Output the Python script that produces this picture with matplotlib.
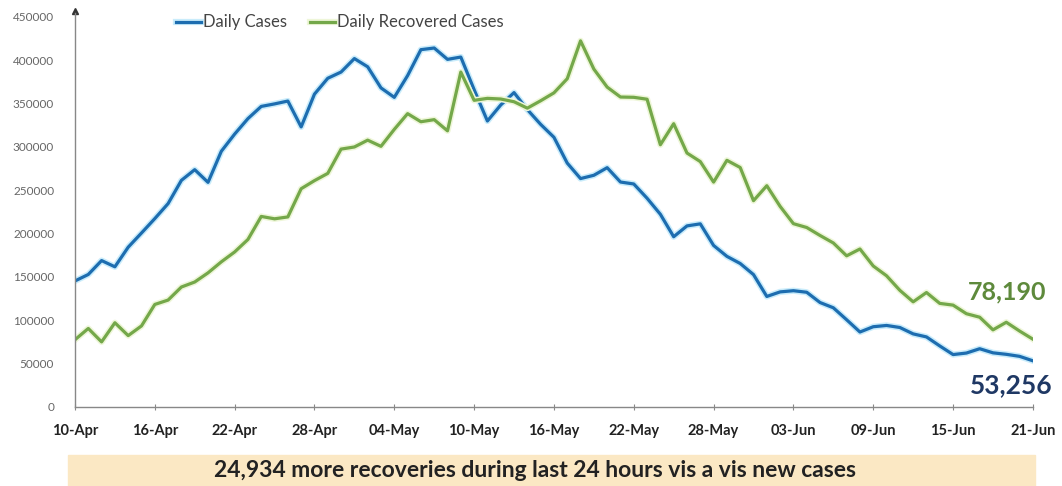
import matplotlib
matplotlib.use("Agg")
import matplotlib.pyplot as plt
import matplotlib.dates as mdates
import matplotlib.patheffects as pe
import pandas as pd

# daily values, 10-Apr .. 21-Jun
dates = pd.date_range("2021-04-10", "2021-06-21", freq="D")

daily_cases = [
    145384, 152879, 168912, 161736, 184372, 200739, 217353, 234692, 261500, 273810,
    259170, 295041, 314835, 332730, 346786, 349691, 352991, 323144, 360960, 379257,
    386452, 401993, 392488, 368147, 357229, 382315, 412262, 414188, 401078, 403738,
    366161, 329942, 348421, 362727, 343144, 326098, 311170, 281386, 263533, 267334,
    276110, 259551, 257299, 240842, 222315, 196427, 208921, 211298, 186364, 173790,
    165553, 152734, 127510, 132788, 134154, 132364, 120529, 114460, 100636, 86498,
    92596, 94052, 91702, 84332, 80834, 70421, 60471, 62224, 67208, 62480,
    60753, 58419, 53256,
]

daily_recovered = [
    77567, 90584, 75086, 97168, 82339, 93528, 118302, 123354, 138423, 144178,
    154761, 167457, 178841, 193279, 219838, 217113, 219272, 251827, 261162, 269507,
    297540, 299988, 307865, 300732, 320289, 338439, 329113, 331507, 318609, 386444,
    353818, 356082, 355338, 352181, 344776, 353299, 362437, 378741, 422436, 389851,
    369077, 357630, 357295, 355102, 302544, 326850, 293003, 283135, 259459, 284601,
    276309, 238022, 255287, 231456, 211499, 207071, 197894, 189232, 174399, 182282,
    162664, 151367, 134580, 121311, 132062, 119501, 117525, 107628, 103570, 88977,
    97743, 87619, 78190,
]

y_ticks = [0, 50000, 100000, 150000, 200000, 250000, 300000, 350000, 400000, 450000]
banner_text = "24,934 more recoveries during last 24 hours vis a vis new cases"

BLUE = "#1d6db0"
GREEN = "#74a84a"

plt.rcParams["font.family"] = ["Lato", "DejaVu Sans"]

fig = plt.figure(figsize=(10.62, 4.86), dpi=100)
ax = fig.add_axes([0.0706, 0.1626, 0.902, 0.8025])

ax.plot(dates, daily_cases, color=BLUE, lw=2.3, label="Daily Cases",
        path_effects=[pe.Stroke(linewidth=4.5, foreground="#c9ecfb"), pe.Normal()])
ax.plot(dates, daily_recovered, color=GREEN, lw=2.3, label="Daily Recovered Cases",
        path_effects=[pe.Stroke(linewidth=4.5, foreground="#eef6d8"), pe.Normal()])

ax.set_xlim(dates[0], dates[-1])
ax.set_ylim(0, 450000)
ax.set_yticks(y_ticks)
ax.set_yticklabels([str(v) for v in y_ticks])
ax.tick_params(axis="y", length=0, pad=15, labelsize=8.5, labelcolor="#666666")

ax.set_xticks(dates[::6])
ax.xaxis.set_major_formatter(mdates.DateFormatter("%d-%b"))
ax.tick_params(axis="x", direction="inout", length=5, color="#888888",
               labelsize=10.5, labelcolor="#222222", pad=10)
for lab in ax.get_xticklabels():
    lab.set_fontweight("bold")

for s in ["top", "right"]:
    ax.spines[s].set_visible(False)
for s in ["left", "bottom"]:
    ax.spines[s].set_color("#888888")
    ax.spines[s].set_linewidth(1.0)
ax.plot([0], [1.015], marker="^", color="#333333", markersize=4,
        transform=ax.transAxes, clip_on=False)
ax.spines["left"].set_bounds(0, 455000)

leg = ax.legend(loc="upper left", bbox_to_anchor=(0.09, 1.045), ncol=2, frameon=False,
                fontsize=12, handlelength=1.5, handletextpad=0.1, columnspacing=1.4)
for t in leg.get_texts():
    t.set_color("#444444")

fig.text(1046 / 1062, 1 - 292 / 486, "78,190", ha="right", va="center",
         fontsize=18, color="#5e8a3c", fontweight="bold")
fig.text(1053 / 1062, 1 - 385 / 486, "53,256", ha="right", va="center",
         fontsize=19, color="#1f3864", fontweight="bold")

banner = plt.Rectangle((68 / 1062, 0), (1035 - 68) / 1062, 31 / 486,
                       transform=fig.transFigure, color="#fbe8c4", zorder=0)
fig.patches.append(banner)
fig.text(535 / 1062, 1 - 470 / 486, banner_text, ha="center", va="center",
         fontsize=16.5, fontweight="bold", color="#222222")

fig.savefig("out.png", dpi=100)
